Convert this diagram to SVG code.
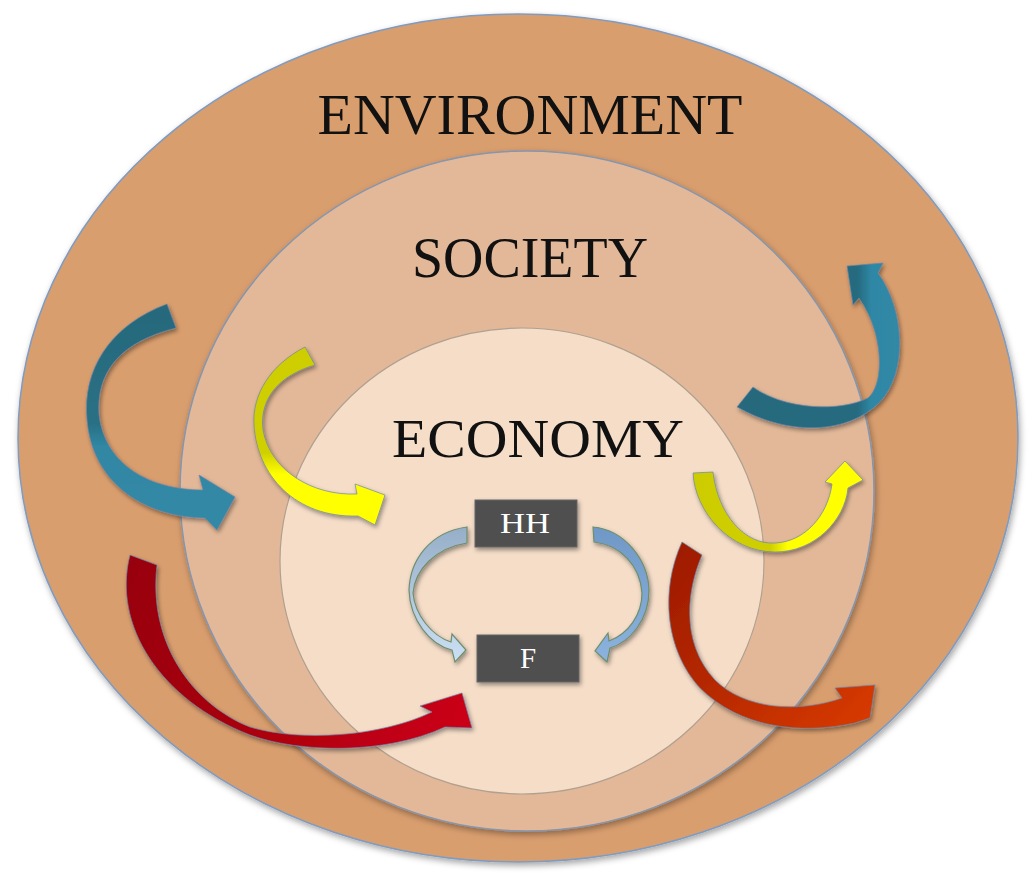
<svg xmlns="http://www.w3.org/2000/svg" width="1032" height="881" viewBox="0 0 1032 881">
<defs>
<style>
.lbl{font-family:"Liberation Serif","Times New Roman",serif;fill:#111;}
.box{fill:#4F4F4F;stroke:#666;stroke-width:1;}
.boxt{font-family:"Liberation Serif","Times New Roman",serif;fill:#fff;font-size:29px;text-anchor:middle;}
.arr{stroke:#6F86A8;stroke-width:1;stroke-opacity:0.7;}
.sarr{stroke:#6E8E6E;stroke-width:1.2;}
</style>
<filter id="sh" x="-10%" y="-10%" width="120%" height="125%">
<feDropShadow dx="1.5" dy="3" stdDeviation="3" flood-color="#000" flood-opacity="0.35"/>
</filter>
<filter id="sh2" x="-10%" y="-10%" width="130%" height="130%">
<feDropShadow dx="1.5" dy="2.5" stdDeviation="2" flood-color="#000" flood-opacity="0.4"/>
</filter>
<linearGradient id="gTealL" gradientUnits="userSpaceOnUse" x1="0" y1="300" x2="0" y2="525">
<stop offset="0" stop-color="#27687B"/><stop offset="0.55" stop-color="#2A7085"/><stop offset="0.65" stop-color="#3087A3"/><stop offset="1" stop-color="#3189A6"/>
</linearGradient>
<linearGradient id="gYelL" gradientUnits="userSpaceOnUse" x1="0" y1="345" x2="0" y2="525">
<stop offset="0" stop-color="#CDCD00"/><stop offset="0.6" stop-color="#D0D000"/><stop offset="0.72" stop-color="#FFFF00"/><stop offset="1" stop-color="#FFFF00"/>
</linearGradient>
<linearGradient id="gRedL" gradientUnits="userSpaceOnUse" x1="125" y1="560" x2="475" y2="720">
<stop offset="0" stop-color="#980008"/><stop offset="0.45" stop-color="#A8000E"/><stop offset="1" stop-color="#CC0016"/>
</linearGradient>
<linearGradient id="gTealR" gradientUnits="userSpaceOnUse" x1="737" y1="0" x2="905" y2="0">
<stop offset="0" stop-color="#25697D"/><stop offset="0.72" stop-color="#266B80"/><stop offset="0.8" stop-color="#2F87A4"/><stop offset="1" stop-color="#3089A6"/>
</linearGradient>
<linearGradient id="gYelR" gradientUnits="userSpaceOnUse" x1="693" y1="0" x2="865" y2="0">
<stop offset="0" stop-color="#CCCC00"/><stop offset="0.45" stop-color="#CFCF00"/><stop offset="0.55" stop-color="#FFFF00"/><stop offset="1" stop-color="#FFFF00"/>
</linearGradient>
<linearGradient id="gRedR" gradientUnits="userSpaceOnUse" x1="680" y1="540" x2="875" y2="720">
<stop offset="0" stop-color="#9E1A00"/><stop offset="0.5" stop-color="#B82A00"/><stop offset="1" stop-color="#D83A00"/>
</linearGradient>
<linearGradient id="gSmL" gradientUnits="userSpaceOnUse" x1="0" y1="527" x2="0" y2="662">
<stop offset="0" stop-color="#97AEC8"/><stop offset="1" stop-color="#CBE0F4"/>
</linearGradient>
<linearGradient id="gSmR" gradientUnits="userSpaceOnUse" x1="0" y1="527" x2="0" y2="662">
<stop offset="0" stop-color="#7098C6"/><stop offset="1" stop-color="#8CB3DE"/>
</linearGradient>
</defs>
<rect width="1032" height="881" fill="#FFFFFF"/>

<g id="environment">
<ellipse cx="518" cy="438" rx="500" ry="424" fill="#D99E6E" stroke="#7F9BC0" stroke-width="1.5" filter="url(#sh)"/>
<text class="lbl" x="530" y="134" font-size="58" text-anchor="middle" textLength="425" lengthAdjust="spacingAndGlyphs">ENVIRONMENT</text>
</g>
<g id="society">
<ellipse cx="527" cy="491" rx="347" ry="340" fill="#E2B898" stroke="#8496B0" stroke-width="1.5" filter="url(#sh)"/>
<text class="lbl" x="530" y="277" font-size="58" text-anchor="middle" textLength="236" lengthAdjust="spacingAndGlyphs">SOCIETY</text>
</g>
<g id="economy">
<ellipse cx="522" cy="561" rx="242" ry="233" fill="#F5DDC8" stroke="#B0A090" stroke-width="1.2"/>
<text class="lbl" x="538" y="457" font-size="54" text-anchor="middle" textLength="292" lengthAdjust="spacingAndGlyphs">ECONOMY</text>
</g>

<g id="connectors">
<path class="arr" fill="url(#gTealL)" filter="url(#sh2)" d="M167,304 C110,325 82,370 87,420 C92,480 140,517 205,518 L217,530 L235,497 L199,475 L203,490 C150,490 105,465 99,415 C96,372 120,342 176,328 Z"/>
<path class="arr" fill="url(#gYelL)" filter="url(#sh2)" d="M305,347 C270,365 252,395 254,425 C257,475 295,518 358,516 L375,525 L385,495 L355,484 L357,494 C312,496 270,470 263,430 C259,398 280,375 315,365 Z"/>
<path class="arr" fill="url(#gRedL)" filter="url(#sh2)" d="M130,555 C112,625 160,700 250,735 C300,753 385,755 445,727 L472,728 L462,693 L420,706 L432,712 C380,737 300,742 250,727 C190,703 148,640 157,565 Z"/>
<path class="arr" fill="url(#gTealR)" filter="url(#sh2)" d="M753,387 C785,410 840,412 868,398 C884,385 885,335 859,298 L853,305 L847,266 L883,263 L878,273 C905,310 908,372 880,402 C848,434 790,437 737,407 Z"/>
<path class="arr" fill="url(#gYelR)" filter="url(#sh2)" d="M693,473 C695,512 730,552 775,552 C815,552 845,520 848,488 L863,480 L845,461 L825,482 L832,484 C828,515 805,542 775,543 C745,545 718,515 713,472 Z"/>
<path class="arr" fill="url(#gRedR)" filter="url(#sh2)" d="M682,542 C660,590 665,650 700,688 C740,728 800,735 855,723 L870,718 L875,685 L835,688 L842,698 C800,713 745,710 715,680 C685,648 683,600 702,555 Z"/>
<path class="sarr" fill="url(#gSmL)" filter="url(#sh2)" d="M467,527 C430,532 410,560 409,590 C410,620 430,645 452,650 L455,662 L466,650 L452,634 L451,642 C432,636 415,615 413,593 C415,570 435,548 467,543 Z"/>
<path class="sarr" fill="url(#gSmR)" filter="url(#sh2)" d="M593,527 C625,530 648,560 649,590 C649,620 630,642 610,648 L607,662 L595,651 L608,633 L609,641 C628,634 642,615 642,593 C640,565 620,545 594,542 Z"/>
</g>

<g id="HH">
<rect class="box" x="475" y="500" width="102" height="47" filter="url(#sh2)"/>
<text class="boxt" x="525" y="533" textLength="50" lengthAdjust="spacingAndGlyphs">HH</text>
</g>
<g id="F">
<rect class="box" x="477" y="635" width="102" height="47" filter="url(#sh2)"/>
<text class="boxt" x="528" y="668">F</text>
</g>
</svg>
